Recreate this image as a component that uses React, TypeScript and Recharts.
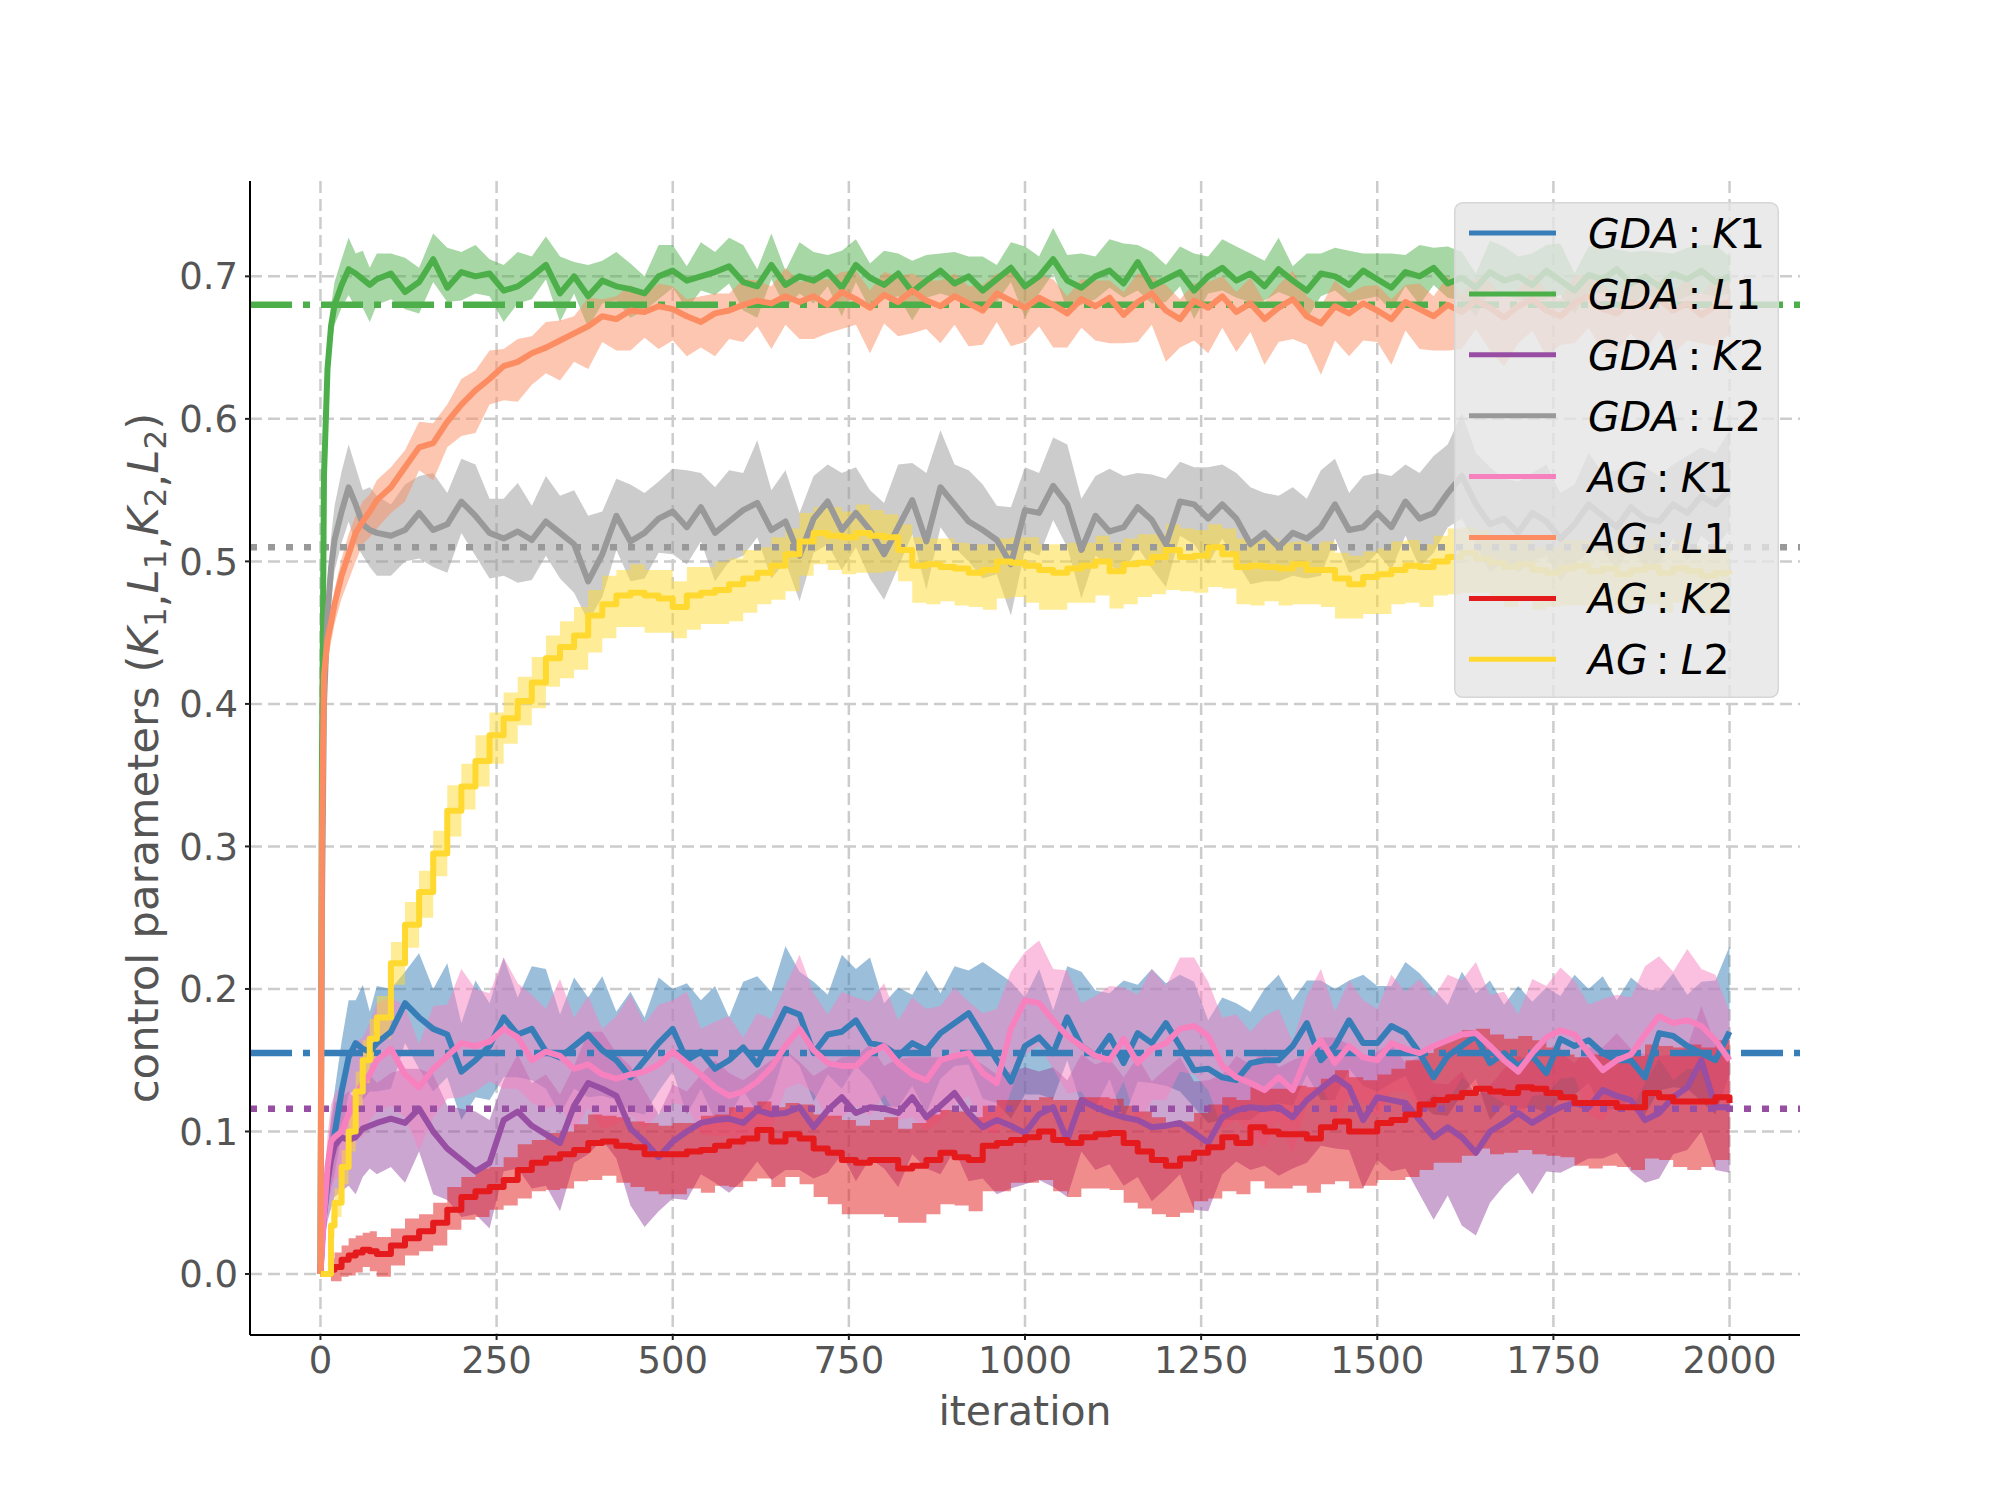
import React from "react";
import {
  ComposedChart,
  Area,
  Line,
  XAxis,
  YAxis,
  CartesianGrid,
  ReferenceLine,
  Legend,
} from "recharts";

// iteration grid (denser at the start where the curves jump)
const ITERATIONS = [
  0, 2, 5, 10, 15, 20, 30, 40, 50, 60, 70, 80,
  100, 120, 140, 160, 180, 200, 220, 240, 260, 280,
  300, 320, 340, 360, 380, 400, 420, 440, 460, 480,
  500, 520, 540, 560, 580, 600, 620, 640, 660, 680,
  700, 720, 740, 760, 780, 800, 820, 840, 860, 880,
  900, 920, 940, 960, 980, 1000, 1020, 1040, 1060, 1080,
  1100, 1120, 1140, 1160, 1180, 1200, 1220, 1240, 1260, 1280,
  1300, 1320, 1340, 1360, 1380, 1400, 1420, 1440, 1460, 1480,
  1500, 1520, 1540, 1560, 1580, 1600, 1620, 1640, 1660, 1680,
  1700, 1720, 1740, 1760, 1780, 1800, 1820, 1840, 1860, 1880,
  1900, 1920, 1940, 1960, 1980, 2000,
];

// all values below are in thousandths; UP / DOWN are the band edges around the mean
const GDA_K1_MEAN = [
  0, 20, 40, 65, 85, 98, 128, 152, 162, 158, 156, 162,
  170, 190, 180, 172, 168, 142, 150, 160, 180, 168,
  172, 156, 152, 160, 168, 157, 150, 138, 150, 162,
  172, 150, 156, 144, 150, 159, 147, 166, 186, 182,
  155, 168, 170, 178, 162, 160, 153, 162, 157, 169,
  176, 183, 167, 150, 135, 160, 166, 155, 180, 160,
  153, 167, 148, 169, 162, 176, 160, 143, 144, 138,
  136, 148, 150, 150, 160, 176, 150, 160, 178, 162,
  162, 174, 169, 155, 138, 153, 160, 167, 148, 155,
  146, 153, 141, 165, 160, 164, 155, 150, 150, 138,
  169, 167, 160, 155, 150, 170,
];
const GDA_K1_UP = [
  0, 10, 15, 20, 25, 30, 35, 40, 30, 45, 28, 40,
  30, 22, 45, 28, 50, 34, 56, 30, 42, 26,
  44, 58, 30, 48, 26, 52, 34, 60, 30, 46,
  28, 54, 36, 58, 30, 46, 62, 32, 44, 30,
  50, 28, 54, 36, 60, 30, 48, 34, 56, 28,
  40, 30, 52, 62, 70, 34, 48, 30, 36, 52,
  46, 30, 58, 34, 52, 28, 50, 62, 34, 56,
  54, 36, 50, 60, 32, 30, 56, 40, 28, 48,
  40, 28, 50, 56, 62, 36, 52, 30, 58, 34,
  56, 38, 60, 30, 50, 36, 54, 42, 58, 62,
  30, 44, 36, 50, 56, 60,
];
const GDA_K1_DOWN = [
  0, 10, 15, 20, 25, 28, 30, 26, 32, 36, 28, 34,
  40, 28, 36, 44, 30, 34, 26, 38, 42, 30,
  36, 26, 40, 30, 44, 32, 28, 24, 38, 34,
  30, 38, 26, 36, 40, 30, 34, 42, 30, 36,
  34, 28, 40, 32, 26, 42, 36, 30, 44, 32,
  30, 36, 44, 30, 26, 34, 40, 32, 30, 42,
  36, 30, 40, 34, 28, 44, 32, 26, 38, 30,
  28, 40, 34, 30, 42, 36, 28, 38, 34, 30,
  34, 40, 30, 36, 26, 42, 34, 30, 40, 36,
  30, 36, 28, 42, 34, 30, 40, 34, 28, 26,
  40, 36, 30, 34, 38, 30,
];

const GDA_L1_MEAN = [
  0, 350, 560, 635, 665, 680, 694, 705, 702, 698, 694, 698,
  702, 689, 696, 712, 692, 703, 700, 702, 690, 693,
  700, 708, 688, 700, 686, 697, 693, 691, 688, 700,
  704, 697, 700, 703, 707, 696, 693, 708, 694, 700,
  697, 703, 692, 708, 699, 694, 702, 689, 697, 704,
  695, 700, 690, 698, 706, 693, 700, 712, 697, 692,
  700, 704, 695, 710, 693, 698, 703, 690, 700, 706,
  697, 702, 693, 705, 697, 690, 702, 700, 694, 704,
  698, 692, 703, 700, 706, 695, 699, 692, 703, 697,
  700, 694, 704, 697, 690, 701, 698, 705, 695, 700,
  693, 702, 698, 704, 696, 700,
];
const GDA_L1_UP = [
  0, 30, 20, 15, 14, 16, 18, 22, 14, 20, 12, 18,
  14, 24, 10, 18, 28, 14, 22, 10, 18, 24,
  14, 20, 26, 10, 22, 14, 24, 18, 12, 22,
  18, 10, 24, 14, 20, 26, 12, 22, 10, 24,
  20, 12, 26, 18, 10, 24, 14, 22, 18, 12,
  22, 14, 24, 10, 18, 28, 14, 22, 18, 24,
  14, 22, 28, 12, 24, 10, 18, 26, 14, 20,
  24, 14, 18, 22, 10, 26, 14, 20, 24, 12,
  18, 24, 12, 22, 14, 26, 18, 10, 22, 24,
  14, 22, 18, 26, 12, 20, 24, 14, 22, 18,
  24, 14, 22, 18, 26, 14,
];
const GDA_L1_DOWN = [
  0, 30, 25, 20, 16, 14, 16, 18, 24, 20, 26, 18,
  18, 12, 22, 16, 10, 20, 12, 16, 22, 12,
  16, 10, 20, 12, 22, 16, 10, 20, 12, 16,
  12, 20, 10, 16, 12, 20, 22, 10, 16, 12,
  16, 10, 20, 12, 22, 10, 16, 20, 12, 16,
  10, 20, 12, 16, 10, 22, 12, 10, 20, 12,
  16, 12, 10, 20, 12, 16, 10, 20, 12, 16,
  12, 20, 10, 16, 12, 20, 16, 10, 12, 20,
  12, 16, 10, 20, 12, 10, 16, 20, 12, 10,
  16, 12, 20, 10, 16, 12, 10, 20, 16, 12,
  10, 20, 12, 16, 10, 12,
];

const GDA_K2_MEAN = [
  0, 25, 46, 65, 80, 90, 96, 94, 96, 102, 104, 106,
  109, 106, 116, 100, 88, 80, 72, 78, 108, 114,
  104, 98, 92, 118, 134, 130, 125, 102, 93, 82,
  93, 100, 106, 108, 109, 106, 115, 112, 113, 117,
  103, 115, 124, 113, 117, 116, 113, 124, 110, 118,
  127, 113, 103, 108, 104, 99, 112, 117, 94, 122,
  117, 113, 110, 108, 103, 104, 106, 99, 92, 110,
  115, 117, 116, 117, 110, 122, 130, 138, 131, 108,
  124, 122, 120, 108, 96, 103, 96, 85, 100, 106,
  113, 106, 112, 117, 120, 117, 129, 125, 122, 108,
  113, 124, 131, 150, 117, 117,
];
const GDA_K2_UP = [
  0, 12, 18, 22, 26, 30, 28, 34, 26, 32, 36, 28,
  32, 38, 28, 40, 30, 36, 42, 30, 28, 40,
  30, 42, 34, 28, 36, 40, 30, 44, 36, 30,
  40, 28, 34, 42, 32, 30, 28, 38, 44, 32,
  36, 30, 28, 40, 44, 30, 38, 28, 42, 34,
  28, 40, 44, 32, 38, 46, 30, 28, 42, 32,
  30, 38, 28, 44, 32, 40, 46, 36, 44, 30,
  38, 30, 42, 28, 40, 32, 36, 28, 30, 44,
  32, 40, 28, 44, 38, 30, 46, 40, 32, 38,
  40, 44, 32, 38, 28, 42, 30, 44, 36, 46,
  40, 30, 28, 38, 44, 32,
];
const GDA_K2_DOWN = [
  0, 10, 22, 28, 34, 36, 38, 32, 40, 34, 30, 36,
  34, 42, 30, 44, 36, 40, 30, 46, 36, 40,
  44, 36, 48, 40, 50, 36, 44, 54, 60, 38,
  40, 48, 36, 44, 52, 40, 36, 46, 40, 44,
  36, 44, 40, 48, 36, 42, 52, 40, 36, 48,
  40, 48, 36, 52, 44, 36, 46, 56, 40, 36,
  44, 36, 48, 40, 52, 44, 36, 54, 48, 40,
  36, 44, 40, 48, 36, 44, 40, 50, 44, 48,
  44, 50, 46, 52, 58, 48, 62, 58, 50, 44,
  42, 50, 40, 46, 44, 36, 48, 40, 50, 44,
  46, 40, 44, 50, 44, 46,
];

const GDA_L2_MEAN = [
  0, 250, 400, 462, 495, 515, 535, 552, 540, 526, 522, 520,
  518, 522, 534, 522, 526, 542, 532, 520, 516, 521,
  515, 528, 520, 512, 486, 505, 532, 514, 520, 530,
  535, 524, 538, 520, 528, 536, 541, 522, 528, 504,
  530, 542, 522, 534, 522, 505, 524, 543, 514, 552,
  540, 528, 522, 515, 498, 536, 534, 553, 540, 508,
  532, 521, 524, 538, 529, 512, 542, 540, 530, 540,
  530, 512, 520, 510, 520, 516, 524, 540, 522, 524,
  534, 524, 542, 530, 534, 548, 560, 540, 526, 530,
  520, 534, 528, 516, 526, 540, 532, 524, 538, 530,
  528, 540, 534, 546, 540, 550,
];
const GDA_L2_UP = [
  0, 30, 30, 25, 22, 24, 28, 30, 26, 24, 30, 26,
  22, 32, 26, 40, 22, 30, 36, 24, 28, 34,
  24, 32, 26, 38, 46, 30, 26, 40, 28, 26,
  30, 40, 24, 32, 36, 26, 44, 28, 36, 30,
  30, 26, 40, 32, 28, 36, 44, 26, 48, 40,
  28, 36, 32, 24, 40, 30, 28, 34, 42, 36,
  28, 44, 36, 24, 32, 46, 28, 26, 36, 28,
  32, 40, 28, 36, 32, 28, 40, 32, 26, 36,
  28, 36, 26, 32, 40, 34, 44, 36, 40, 28,
  36, 28, 40, 32, 28, 36, 30, 40, 32, 36,
  32, 28, 40, 34, 36, 42,
];
const GDA_L2_DOWN = [
  0, 30, 30, 25, 22, 22, 22, 24, 28, 22, 26, 30,
  28, 22, 32, 26, 34, 22, 28, 32, 26, 36,
  28, 24, 32, 34, 28, 30, 24, 28, 32, 24,
  30, 26, 24, 34, 28, 32, 24, 34, 28, 32,
  24, 30, 28, 24, 34, 32, 28, 24, 34, 28,
  30, 28, 34, 24, 36, 28, 30, 24, 30, 34,
  28, 24, 32, 28, 34, 30, 24, 28, 32, 24,
  30, 28, 34, 24, 30, 28, 34, 24, 30, 28,
  28, 30, 24, 34, 28, 24, 30, 28, 34, 30,
  28, 34, 24, 30, 28, 34, 24, 30, 28, 34,
  30, 24, 34, 28, 30, 28,
];

const AG_K1_MEAN = [
  0, 15, 40, 75, 93, 96, 100, 112, 125, 134, 140, 150,
  158, 140, 131, 144, 153, 162, 160, 163, 172, 166,
  150, 156, 153, 144, 147, 140, 137, 140, 142, 147,
  156, 148, 140, 131, 125, 128, 135, 145, 160, 172,
  157, 148, 146, 146, 155, 160, 148, 140, 136, 150,
  153, 155, 141, 134, 172, 192, 190, 178, 167, 160,
  153, 150, 165, 148, 158, 162, 172, 174, 167, 146,
  138, 134, 129, 138, 129, 153, 164, 148, 160, 152,
  150, 162, 158, 155, 160, 164, 168, 169, 160, 150,
  142, 155, 166, 171, 168, 155, 143, 150, 154, 168,
  181, 176, 178, 174, 164, 150,
];
const AG_K1_UP = [
  0, 10, 18, 22, 26, 30, 34, 30, 38, 32, 36, 40,
  36, 48, 30, 44, 36, 52, 40, 34, 50, 38,
  46, 30, 54, 36, 48, 32, 44, 56, 34, 42,
  36, 50, 32, 46, 56, 38, 48, 34, 42, 52,
  40, 34, 52, 48, 36, 44, 30, 54, 50, 38,
  48, 36, 42, 52, 40, 34, 44, 36, 46, 30,
  42, 52, 36, 48, 56, 40, 50, 48, 38, 34,
  44, 36, 52, 48, 34, 42, 50, 36, 46, 40,
  36, 48, 40, 52, 34, 46, 38, 50, 36, 48,
  40, 52, 36, 44, 38, 34, 50, 46, 40, 48,
  42, 36, 50, 40, 46, 34,
];
const AG_K1_DOWN = [
  0, 10, 20, 30, 35, 30, 30, 34, 30, 38, 32, 36,
  40, 30, 44, 34, 30, 38, 32, 28, 42, 36,
  30, 40, 34, 44, 30, 38, 32, 28, 40, 34,
  36, 30, 42, 34, 28, 40, 34, 44, 30, 38,
  30, 40, 36, 28, 44, 34, 40, 30, 36, 42,
  34, 30, 40, 36, 44, 38, 30, 34, 40, 32,
  40, 34, 30, 44, 36, 40, 30, 34, 38, 44,
  30, 36, 40, 30, 44, 34, 30, 40, 36, 32,
  40, 34, 30, 38, 34, 44, 30, 40, 34, 30,
  36, 30, 40, 34, 30, 42, 36, 30, 40, 34,
  30, 40, 34, 30, 38, 34,
];

const AG_L1_MEAN = [
  0, 300, 420, 445, 457, 470, 490, 505, 520, 528, 535, 543,
  552, 566, 580, 583, 598, 610, 620, 628, 637, 640,
  646, 650, 655, 660, 665, 672, 670, 676, 675, 679,
  677, 672, 668, 674, 676, 680, 683, 681, 686, 682,
  686, 680, 689, 684, 678, 687, 682, 690, 683, 679,
  686, 681, 676, 688, 683, 678, 685, 680, 674, 684,
  679, 685, 673, 682, 688, 676, 670, 683, 678, 686,
  675, 681, 670, 678, 684, 672, 667, 679, 674, 681,
  676, 670, 682, 677, 672, 680, 675, 683, 678, 671,
  679, 684, 676, 672, 681, 686, 677, 674, 682, 678,
  684, 676, 681, 673, 679, 682,
];
const AG_L1_UP = [
  0, 20, 15, 12, 10, 10, 12, 14, 12, 14, 12, 14,
  14, 12, 18, 14, 12, 18, 14, 20, 12, 16,
  12, 18, 14, 12, 20, 12, 16, 18, 12, 16,
  16, 12, 18, 14, 12, 18, 14, 12, 20, 14,
  12, 18, 14, 20, 12, 16, 18, 12, 14, 18,
  16, 12, 18, 14, 20, 12, 16, 18, 12, 14,
  18, 12, 16, 20, 12, 18, 14, 12, 18, 14,
  14, 18, 12, 16, 20, 14, 12, 18, 14, 12,
  18, 14, 12, 18, 14, 20, 12, 16, 18, 14,
  12, 18, 14, 12, 20, 14, 18, 12, 16, 18,
  14, 12, 18, 14, 20, 14,
];
const AG_L1_DOWN = [
  0, 20, 20, 15, 14, 14, 16, 18, 20, 16, 18, 20,
  18, 24, 16, 26, 18, 22, 30, 18, 24, 28,
  22, 18, 28, 20, 30, 18, 22, 28, 18, 30,
  22, 28, 18, 30, 20, 26, 18, 32, 20, 26,
  30, 20, 26, 18, 32, 20, 24, 30, 20, 26,
  20, 30, 24, 20, 32, 24, 20, 30, 24, 20,
  24, 32, 20, 28, 22, 36, 20, 28, 32, 22,
  28, 20, 32, 24, 28, 20, 36, 24, 30, 26,
  22, 32, 20, 28, 24, 32, 26, 20, 30, 34,
  26, 22, 32, 20, 28, 22, 30, 26, 22, 30,
  22, 30, 26, 20, 28, 22,
];

const AG_K2_MEAN = [
  0, 0, 0, 0, 3, 5, 10, 13, 15, 17, 16, 14,
  20, 25, 30, 36, 45, 54, 58, 61, 66, 73,
  78, 81, 84, 87, 92, 93, 90, 89, 84, 84,
  84, 86, 87, 90, 93, 95, 101, 93, 98, 95,
  88, 85, 80, 78, 80, 80, 74, 76, 80, 85,
  82, 80, 90, 92, 94, 96, 100, 94, 92, 96,
  98, 99, 92, 86, 80, 76, 81, 85, 89, 96,
  92, 103, 100, 98, 98, 95, 103, 107, 100, 100,
  106, 108, 112, 119, 122, 124, 127, 130, 128, 127,
  131, 130, 127, 124, 120, 120, 120, 117, 117, 127,
  124, 121, 121, 121, 124, 120,
];
const AG_K2_UP = [
  0, 0, 0, 0, 8, 10, 10, 12, 12, 12, 14, 12,
  12, 14, 12, 14, 16, 14, 16, 14, 16, 18,
  16, 18, 16, 18, 20, 18, 20, 18, 22, 20,
  22, 20, 24, 22, 24, 22, 20, 24, 22, 24,
  24, 26, 28, 26, 28, 30, 28, 30, 32, 30,
  32, 30, 28, 30, 28, 26, 24, 28, 30, 28,
  26, 24, 26, 28, 30, 28, 26, 28, 30, 28,
  30, 28, 30, 32, 34, 36, 34, 36, 38, 36,
  34, 36, 38, 36, 40, 42, 44, 42, 40, 38,
  36, 34, 32, 30, 32, 34, 32, 34, 36, 34,
  36, 38, 40, 38, 40, 44,
];
const AG_K2_DOWN = [
  0, 0, 0, 0, 8, 10, 12, 14, 14, 12, 14, 16,
  14, 12, 14, 16, 14, 16, 18, 16, 18, 20,
  20, 22, 24, 22, 26, 24, 26, 28, 26, 28,
  28, 26, 30, 28, 32, 30, 34, 32, 30, 32,
  34, 36, 38, 36, 38, 40, 38, 40, 38, 36,
  34, 36, 32, 34, 30, 32, 34, 36, 38, 36,
  38, 40, 42, 40, 38, 36, 38, 34, 36, 38,
  36, 38, 40, 38, 36, 38, 40, 42, 40, 38,
  40, 42, 44, 46, 44, 46, 44, 42, 44, 42,
  44, 46, 44, 42, 44, 46, 44, 42, 44, 46,
  44, 46, 48, 46, 44, 46,
];

const AG_L2_MEAN = [
  0, 0, 0, 0, 34, 50, 75, 100, 128, 150, 165, 180,
  218, 245, 268, 295, 325, 342, 360, 378, 390, 402,
  415, 432, 440, 448, 462, 470, 476, 478, 476, 474,
  468, 476, 478, 480, 484, 488, 492, 497, 505, 514,
  520, 518, 517, 520, 518, 517, 508, 497, 498, 496,
  495, 492, 494, 500, 499, 497, 494, 492, 495, 497,
  500, 493, 498, 499, 503, 508, 503, 504, 510, 505,
  496, 497, 496, 495, 498, 494, 494, 488, 484, 489,
  491, 494, 497, 496, 500, 503, 506, 502, 499, 496,
  498, 494, 492, 495, 497, 493, 495, 491, 494, 496,
  492, 495, 493, 490, 492, 491,
];
const AG_L2_UP = [
  0, 0, 0, 0, 8, 10, 12, 12, 14, 14, 14, 15,
  15, 16, 15, 16, 18, 16, 18, 16, 18, 17,
  18, 16, 18, 20, 18, 20, 18, 20, 18, 20,
  18, 20, 18, 20, 18, 20, 18, 20, 18, 20,
  18, 20, 18, 20, 18, 16, 18, 20, 18, 20,
  18, 20, 18, 16, 18, 20, 18, 20, 18, 16,
  18, 20, 18, 20, 16, 18, 20, 18, 16, 18,
  20, 18, 20, 18, 16, 18, 20, 18, 20, 18,
  18, 20, 18, 16, 18, 20, 18, 20, 18, 20,
  18, 16, 18, 20, 18, 20, 18, 16, 18, 20,
  18, 20, 18, 16, 18, 20,
];
const AG_L2_DOWN = [
  0, 0, 0, 0, 8, 10, 12, 14, 14, 16, 16, 15,
  15, 16, 18, 16, 18, 16, 18, 20, 18, 17,
  18, 20, 22, 24, 26, 24, 22, 24, 26, 24,
  22, 24, 22, 24, 26, 24, 22, 24, 26, 24,
  22, 24, 26, 28, 26, 24, 22, 26, 28, 24,
  26, 24, 28, 26, 24, 26, 28, 26, 24, 26,
  24, 26, 28, 24, 26, 28, 24, 26, 28, 24,
  26, 28, 24, 26, 28, 24, 26, 28, 24, 26,
  28, 24, 26, 28, 24, 26, 28, 24, 26, 28,
  26, 28, 24, 26, 28, 24, 26, 28, 24, 26,
  28, 24, 26, 28, 26, 24,
];

// optimal values drawn as horizontal lines: L1, L2, K1, K2
const OPTIMA = [0.68, 0.51, 0.155, 0.116];
const OPTIMA_COLORS = ["#4daf4a", "#999999", "#377eb8", "#984ea3"];
const OPTIMA_DASHES = ["42 11 7 11", "7 11", "42 11 7 11", "7 11"];

const X_DOMAIN = [-100, 2100];
const Y_DOMAIN = [-0.0428, 0.7669];
const X_TICKS = [0, 250, 500, 750, 1000, 1250, 1500, 1750, 2000];
const Y_TICKS = [0, 0.1, 0.2, 0.3, 0.4, 0.5, 0.6, 0.7];

const SERIES = [
  { key: "gdaK1", method: "GDA", sym: "K", idx: "1", color: "#377eb8", mean: GDA_K1_MEAN, up: GDA_K1_UP, down: GDA_K1_DOWN, curve: "linear" },
  { key: "gdaL1", method: "GDA", sym: "L", idx: "1", color: "#4daf4a", mean: GDA_L1_MEAN, up: GDA_L1_UP, down: GDA_L1_DOWN, curve: "linear" },
  { key: "gdaK2", method: "GDA", sym: "K", idx: "2", color: "#984ea3", mean: GDA_K2_MEAN, up: GDA_K2_UP, down: GDA_K2_DOWN, curve: "linear" },
  { key: "gdaL2", method: "GDA", sym: "L", idx: "2", color: "#999999", mean: GDA_L2_MEAN, up: GDA_L2_UP, down: GDA_L2_DOWN, curve: "linear" },
  { key: "agK1", method: "AG", sym: "K", idx: "1", color: "#f781bf", mean: AG_K1_MEAN, up: AG_K1_UP, down: AG_K1_DOWN, curve: "linear" },
  { key: "agL1", method: "AG", sym: "L", idx: "1", color: "#fc8d62", mean: AG_L1_MEAN, up: AG_L1_UP, down: AG_L1_DOWN, curve: "linear" },
  { key: "agK2", method: "AG", sym: "K", idx: "2", color: "#e41a1c", mean: AG_K2_MEAN, up: AG_K2_UP, down: AG_K2_DOWN, curve: "stepAfter" },
  { key: "agL2", method: "AG", sym: "L", idx: "2", color: "#ffd92f", mean: AG_L2_MEAN, up: AG_L2_UP, down: AG_L2_DOWN, curve: "stepAfter" },
];

const rows = ITERATIONS.map((iter, i) => {
  const row: Record<string, number | number[]> = { iter };
  SERIES.forEach((s) => {
    row[s.key] = s.mean[i] / 1000;
    row[s.key + "Band"] = [(s.mean[i] - s.down[i]) / 1000, (s.mean[i] + s.up[i]) / 1000];
  });
  return row;
});

const FONT = "DejaVu Sans";
const TEXT_GREY = "#555555";

// grid only at the tick values (no lines on the plot border)
function gridX(props: any) {
  const { xAxis, offset } = props;
  if (xAxis && typeof xAxis.scale === "function") return X_TICKS.map((t) => xAxis.scale(t));
  return X_TICKS.map((t) => offset.left + ((t - X_DOMAIN[0]) / (X_DOMAIN[1] - X_DOMAIN[0])) * offset.width);
}
function gridY(props: any) {
  const { yAxis, offset } = props;
  if (yAxis && typeof yAxis.scale === "function") return Y_TICKS.map((t) => yAxis.scale(t));
  return Y_TICKS.map((t) => offset.top + ((Y_DOMAIN[1] - t) / (Y_DOMAIN[1] - Y_DOMAIN[0])) * offset.height);
}

function XTitle() {
  return (
    <text x={1025} y={1425} textAnchor="middle" fontSize={41} fill={TEXT_GREY} fontFamily={FONT}>
      iteration
    </text>
  );
}

function YTitle() {
  const parts = [
    ["K", "1"],
    ["L", "1"],
    ["K", "2"],
    ["L", "2"],
  ];
  return (
    <text
      x={158}
      y={758}
      transform="rotate(-90 158 758)"
      textAnchor="middle"
      fontSize={43.5}
      fill={TEXT_GREY}
      fontFamily={FONT}
    >
      {"control parameters ("}
      {parts.map(([sym, sub], i) => (
        <React.Fragment key={i}>
          <tspan fontStyle="italic" dy={i === 0 ? 0 : -8}>{sym}</tspan>
          <tspan fontSize={31} dy={8}>{sub}</tspan>
          {i < parts.length - 1 && <tspan>{","}</tspan>}
          {i < parts.length - 1 && <tspan dx={9}>{""}</tspan>}
        </React.Fragment>
      ))}
      <tspan dy={-8}>{")"}</tspan>
    </text>
  );
}

function LegendBox() {
  const w = 325;
  const h = 496;
  return (
    <svg width={w} height={h} style={{ display: "block", fontFamily: FONT }}>
      <rect x={0.75} y={0.75} width={w - 1.5} height={h - 1.5} rx={8} fill="#e5e5e5" fillOpacity={0.8} stroke="#d6d6d6" strokeWidth={1.5} />
      {SERIES.map((s, i) => {
        const cy = 31 + i * 60.9;
        return (
          <g key={s.key}>
            <line x1={15} x2={102} y1={cy} y2={cy} stroke={s.color} strokeWidth={5} />
            <text x={134} y={cy + 15} fontSize={41} fill="#000">
              <tspan fontStyle="italic">{s.method}</tspan>
              <tspan dx={8}>:</tspan>
              <tspan dx={11} fontStyle="italic">{s.sym}</tspan>
              <tspan>{s.idx}</tspan>
            </text>
          </g>
        );
      })}
    </svg>
  );
}

export default function App() {
  return (
    <div style={{ position: "absolute", left: 0, top: 0, width: 2000, height: 1500, background: "#ffffff" }}>
      <ComposedChart
        width={2000}
        height={1500}
        data={rows}
        margin={{ top: 181, right: 200, bottom: 105, left: 150 }}
        style={{ fontFamily: FONT }}
      >
        <CartesianGrid
          stroke="#cccccc"
          strokeDasharray="12 6"
          strokeWidth={2.5}
          verticalCoordinatesGenerator={gridX}
          horizontalCoordinatesGenerator={gridY}
        />
        <XAxis
          dataKey="iter"
          type="number"
          domain={X_DOMAIN}
          ticks={X_TICKS}
          interval={0}
          allowDataOverflow
          height={60}
          axisLine={{ stroke: "#000000", strokeWidth: 2 }}
          tickLine={{ stroke: "#222222", strokeWidth: 2 }}
          tickSize={5}
          tickMargin={7}
          tick={{ fontSize: 37, fill: TEXT_GREY, fontFamily: FONT }}
          label={<XTitle />}
        />
        <YAxis
          type="number"
          domain={Y_DOMAIN}
          ticks={Y_TICKS}
          interval={0}
          allowDataOverflow
          width={100}
          axisLine={{ stroke: "#000000", strokeWidth: 2 }}
          tickLine={{ stroke: "#222222", strokeWidth: 2 }}
          tickSize={5}
          tickMargin={7}
          tick={{ fontSize: 37, fill: TEXT_GREY, fontFamily: FONT }}
          tickFormatter={(v: number) => v.toFixed(1)}
          label={<YTitle />}
        />

        {SERIES.map((s) => (
          <Area
            key={s.key + "Band"}
            dataKey={s.key + "Band"}
            type={s.curve as "linear"}
            stroke="none"
            fill={s.color}
            fillOpacity={0.5}
            dot={false}
            activeDot={false}
            isAnimationActive={false}
          />
        ))}

        {OPTIMA.map((v, i) => (
          <ReferenceLine
            key={"opt" + i}
            y={v}
            stroke={OPTIMA_COLORS[i]}
            strokeWidth={6.5}
            strokeDasharray={OPTIMA_DASHES[i]}
          />
        ))}

        {SERIES.map((s) => (
          <Line
            key={s.key}
            dataKey={s.key}
            type={s.curve as "linear"}
            stroke={s.color}
            strokeWidth={6}
            strokeLinejoin="round"
            dot={false}
            activeDot={false}
            isAnimationActive={false}
          />
        ))}

        <Legend
          layout="vertical"
          align="center"
          verticalAlign="middle"
          wrapperStyle={{ left: 1454, top: 202, width: 325, height: 496 }}
          content={() => <LegendBox />}
        />
      </ComposedChart>
    </div>
  );
}
